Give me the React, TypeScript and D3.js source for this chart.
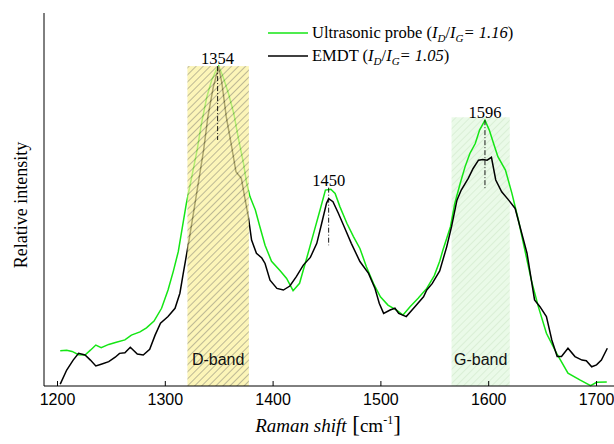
import React, { useEffect, useRef } from "react";
import * as d3 from "d3";

// Ultrasonic probe spectrum (green)
const probeShift = [
  1203, 1209, 1214, 1220, 1226, 1231, 1236, 1241, 1248, 1255, 1263, 1269, 1277, 1283, 1290, 1297,
  1303, 1308, 1312.5, 1320, 1325, 1330, 1334, 1339, 1343.5, 1348, 1350, 1354, 1359, 1364, 1368,
  1373, 1376, 1379, 1384, 1388, 1393, 1399, 1407, 1413, 1419, 1425, 1432, 1438, 1444, 1449, 1454,
  1458, 1462.5, 1469, 1475, 1481, 1487, 1493.5, 1500, 1507, 1515, 1521, 1527.5, 1535, 1543, 1550,
  1555, 1558, 1565, 1569, 1574, 1578.5, 1583, 1588, 1592, 1597, 1601, 1605, 1609, 1616, 1622, 1628,
  1634, 1640, 1646.5, 1654, 1663.5, 1674, 1685, 1695, 1700.5, 1710,
];
const probeIntensity = [
  0.11, 0.112, 0.108, 0.098, 0.097, 0.112, 0.128, 0.12, 0.13, 0.137, 0.144, 0.159, 0.169, 0.182, 0.203,
  0.243, 0.3, 0.36, 0.42, 0.571, 0.654, 0.738, 0.82, 0.904, 0.956, 0.99, 1.0, 0.967, 0.915, 0.852,
  0.779, 0.696, 0.633, 0.592, 0.55, 0.5, 0.44, 0.39, 0.36, 0.336, 0.298, 0.321, 0.404, 0.477, 0.55,
  0.6125, 0.615, 0.602, 0.56, 0.508, 0.467, 0.43, 0.373, 0.321, 0.279, 0.253, 0.2375, 0.222, 0.248,
  0.274, 0.305, 0.345, 0.39, 0.425, 0.498, 0.571, 0.633, 0.685, 0.727, 0.758, 0.8, 0.831, 0.8, 0.758,
  0.717, 0.675, 0.602, 0.519, 0.425, 0.331, 0.248, 0.165, 0.102, 0.04, 0.019, 0.001, 0.0115, 0.0125,
];

// EMDT spectrum (black)
const emdtShift = [
  1203, 1209, 1215, 1220, 1226, 1231, 1236, 1241, 1248, 1254, 1258, 1263, 1268, 1274.5, 1280, 1286,
  1291, 1296, 1303, 1309.5, 1314, 1317, 1322, 1326, 1331, 1336, 1340, 1345, 1350, 1353, 1357, 1362,
  1366, 1371, 1374, 1377.5, 1380.5, 1385, 1390, 1393, 1397.6, 1404, 1410, 1416, 1422, 1428.5, 1435,
  1441, 1445.5, 1450, 1452, 1456, 1461, 1467, 1473, 1481, 1489, 1495, 1499, 1503, 1509, 1513.5, 1517,
  1524, 1532, 1540, 1543, 1548, 1555, 1561.5, 1566, 1571, 1575, 1581.5, 1586, 1591, 1595, 1599, 1603,
  1607, 1612.5, 1619, 1625, 1629.5, 1636, 1643, 1648, 1654, 1659, 1664, 1668, 1674, 1680.5, 1687,
  1691, 1696, 1700.5, 1705, 1710.5,
];
const emdtIntensity = [
  0.006, 0.05, 0.081, 0.102, 0.097, 0.081, 0.0625, 0.068, 0.076, 0.09, 0.102, 0.104, 0.121, 0.1, 0.097,
  0.115, 0.159, 0.196, 0.217, 0.243, 0.29, 0.35, 0.446, 0.529, 0.633, 0.7375, 0.842, 0.935, 0.998,
  0.946, 0.842, 0.748, 0.67, 0.649, 0.592, 0.529, 0.456, 0.415, 0.4, 0.383, 0.331, 0.305, 0.3, 0.3125,
  0.342, 0.378, 0.402, 0.446, 0.508, 0.571, 0.586, 0.576, 0.54, 0.493, 0.446, 0.389, 0.352, 0.305,
  0.258, 0.227, 0.2375, 0.243, 0.227, 0.217, 0.248, 0.279, 0.3, 0.32, 0.36, 0.435, 0.498, 0.581,
  0.6125, 0.649, 0.68, 0.706, 0.708, 0.706, 0.715, 0.644, 0.607, 0.581, 0.555, 0.498, 0.415, 0.269,
  0.248, 0.217, 0.144, 0.092, 0.092, 0.118, 0.092, 0.081, 0.079, 0.06, 0.066, 0.081, 0.118,
];

const xTicks = [1200, 1300, 1400, 1500, 1600, 1700];

// bands: [from, to]
const dBand = [1321, 1378];
const gBand = [1566, 1620];
const bandTop = 1.0; // D band top
const gBandTop = 0.84;

// peak markers: position, label, top, bottom
const peakPos = [1349, 1452, 1597];
const peakLabels = ["1354", "1450", "1596"];
const peakTop = [1.0, 0.62, 0.831];
const peakBottom = [0.769, 0.44, 0.6125];

const serif = "'Liberation Serif', 'Times New Roman', serif";
const sans = "'Liberation Sans', Arial, sans-serif";

export default function App() {
  const ref = useRef<SVGGElement>(null);

  useEffect(() => {
    const svg = d3.select(ref.current);
    svg.selectAll("*").remove();

    const left = 44;
    const right = 614;
    const bottom = 386;
    const top = 13;

    const x = d3.scaleLinear().domain([1200, 1700]).range([57, 596]);
    const y = d3.scaleLinear().domain([0, 1.166]).range([bottom, top]);

    const defs = svg.append("defs");
    const hatchD = defs
      .append("pattern")
      .attr("id", "hatchD")
      .attr("width", 5)
      .attr("height", 5)
      .attr("patternUnits", "userSpaceOnUse")
      .attr("patternTransform", "rotate(45)");
    hatchD.append("rect").attr("width", 5).attr("height", 5).attr("fill", "#faf09a");
    hatchD.append("line").attr("x1", 0.5).attr("y1", 0).attr("x2", 0.5).attr("y2", 5)
      .attr("stroke", "#7a7650").attr("stroke-width", 0.7);

    const hatchG = defs
      .append("pattern")
      .attr("id", "hatchG")
      .attr("width", 5)
      .attr("height", 5)
      .attr("patternUnits", "userSpaceOnUse")
      .attr("patternTransform", "rotate(45)");
    hatchG.append("rect").attr("width", 5).attr("height", 5).attr("fill", "#eafaE8");
    hatchG.append("line").attr("x1", 0.5).attr("y1", 0).attr("x2", 0.5).attr("y2", 5)
      .attr("stroke", "#d6ecd2").attr("stroke-width", 0.8);

    // G band (under the lines)
    svg.append("rect")
      .attr("x", x(gBand[0]))
      .attr("y", y(gBandTop))
      .attr("width", x(gBand[1]) - x(gBand[0]))
      .attr("height", bottom - y(gBandTop))
      .attr("fill", "url(#hatchG)");

    const line = d3.line<[number, number]>()
      .x((d) => x(d[0]))
      .y((d) => y(d[1]));

    const probe = probeShift.map((s, i) => [s, probeIntensity[i]] as [number, number]);
    const emdt = emdtShift.map((s, i) => [s, emdtIntensity[i]] as [number, number]);

    svg.append("path").datum(probe).attr("d", line)
      .attr("fill", "none").attr("stroke", "#14e614").attr("stroke-width", 1.5);
    svg.append("path").datum(emdt).attr("d", line)
      .attr("fill", "none").attr("stroke", "#000").attr("stroke-width", 1.5);

    // D band on top, see-through
    svg.append("rect")
      .attr("x", x(dBand[0]))
      .attr("y", y(bandTop))
      .attr("width", x(dBand[1]) - x(dBand[0]))
      .attr("height", bottom - y(bandTop))
      .attr("fill", "url(#hatchD)")
      .attr("opacity", 0.7);

    // band labels
    svg.append("text").attr("x", x((dBand[0] + dBand[1]) / 2)).attr("y", 365)
      .attr("text-anchor", "middle").attr("font-family", sans).attr("font-size", 16)
      .attr("fill", "#111").text("D-band");
    svg.append("text").attr("x", x((gBand[0] + gBand[1]) / 2)).attr("y", 365)
      .attr("text-anchor", "middle").attr("font-family", sans).attr("font-size", 16)
      .attr("fill", "#111").text("G-band");

    // peak markers
    peakPos.forEach((p, i) => {
      svg.append("line")
        .attr("x1", x(p)).attr("x2", x(p))
        .attr("y1", y(peakTop[i])).attr("y2", y(peakBottom[i]))
        .attr("stroke", "#000").attr("stroke-width", 0.9)
        .attr("stroke-dasharray", "5,2,1,2");
      svg.append("text")
        .attr("x", x(p))
        .attr("y", y(peakTop[i]) - 2)
        .attr("text-anchor", "middle")
        .attr("font-family", serif)
        .attr("font-size", 16.5)
        .text(peakLabels[i]);
    });

    // axes
    svg.append("line").attr("x1", left).attr("x2", left).attr("y1", top).attr("y2", bottom)
      .attr("stroke", "#000").attr("stroke-width", 1);
    svg.append("line").attr("x1", left).attr("x2", right).attr("y1", bottom).attr("y2", bottom)
      .attr("stroke", "#000").attr("stroke-width", 1);

    const xAxis = svg.append("g")
      .attr("transform", `translate(0,${bottom})`)
      .call(d3.axisBottom(x).tickValues(xTicks).tickSize(-5).tickPadding(8).tickFormat(d3.format("d")));
    xAxis.select(".domain").remove();
    xAxis.selectAll("text").attr("font-family", sans).attr("font-size", 16).attr("fill", "#000");

    // legend
    const legendRows = [
      { color: "#14e614", y: 33 },
      { color: "#000", y: 56 },
    ];
    legendRows.forEach((r) => {
      svg.append("line").attr("x1", 268).attr("x2", 308).attr("y1", r.y).attr("y2", r.y)
        .attr("stroke", r.color).attr("stroke-width", 1.5);
    });
  }, []);

  return (
    <svg width={614} height={444} style={{ display: "block", position: "absolute", left: 0, top: 0 }}>
      <g ref={ref} />
      <text x={312} y={38} fontFamily={serif} fontSize={16.5}>
        Ultrasonic probe (<tspan fontStyle="italic">I</tspan>
        <tspan fontStyle="italic" fontSize={11} dy={4}>D</tspan>
        <tspan dy={-4}>/</tspan>
        <tspan fontStyle="italic">I</tspan>
        <tspan fontStyle="italic" fontSize={11} dy={4}>G</tspan>
        <tspan fontStyle="italic" dy={-4}>= 1.16</tspan>)
      </text>
      <text x={312} y={61} fontFamily={serif} fontSize={16.5}>
        EMDT (<tspan fontStyle="italic">I</tspan>
        <tspan fontStyle="italic" fontSize={11} dy={4}>D</tspan>
        <tspan dy={-4}>/</tspan>
        <tspan fontStyle="italic">I</tspan>
        <tspan fontStyle="italic" fontSize={11} dy={4}>G</tspan>
        <tspan fontStyle="italic" dy={-4}>= 1.05</tspan>)
      </text>
      <text transform="translate(27,205) rotate(-90)" textAnchor="middle" fontFamily={serif} fontSize={18}>
        Relative intensity
      </text>
      <text x={328} y={432} textAnchor="middle" fontFamily={serif} fontSize={19}>
        <tspan fontStyle="italic">Raman shift</tspan>
        <tspan fontSize={23}> [</tspan>
        <tspan>cm</tspan>
        <tspan fontSize={12} dy={-8}>-1</tspan>
        <tspan fontSize={23} dy={8}>]</tspan>
      </text>
    </svg>
  );
}
